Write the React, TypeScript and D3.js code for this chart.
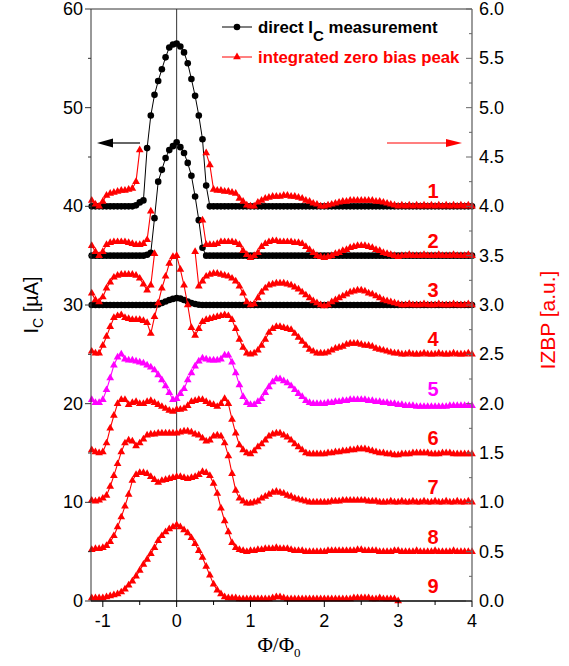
import React from 'react';
import * as d3 from 'd3';

// flux values (Φ/Φ0) at which all traces are sampled
const PHI = [
  -1.15, -1.1, -1.05, -1, -0.95, -0.9, -0.85, -0.8, -0.75, -0.7,
  -0.65, -0.6, -0.55, -0.5, -0.45, -0.4, -0.35, -0.3, -0.25, -0.2,
  -0.15, -0.1, -0.05, 0, 0.05, 0.1, 0.15, 0.2, 0.25, 0.3,
  0.35, 0.4, 0.45, 0.5, 0.55, 0.6, 0.65, 0.7, 0.75, 0.8,
  0.85, 0.9, 0.95, 1, 1.05, 1.1, 1.15, 1.2, 1.25, 1.3,
  1.35, 1.4, 1.45, 1.5, 1.55, 1.6, 1.65, 1.7, 1.75, 1.8,
  1.85, 1.9, 1.95, 2, 2.05, 2.1, 2.15, 2.2, 2.25, 2.3,
  2.35, 2.4, 2.45, 2.5, 2.55, 2.6, 2.65, 2.7, 2.75, 2.8,
  2.85, 2.9, 2.95, 3, 3.05, 3.1, 3.15, 3.2, 3.25, 3.3,
  3.35, 3.4, 3.45, 3.5, 3.55, 3.6, 3.65, 3.7, 3.75, 3.8,
  3.85, 3.9, 3.95, 4,
];

// integrated zero bias peak traces (a.u., relative to each trace's offset); null = no data
const N = null;
const Z1 = [
  .06, .02, .00, .05, .11, .13, .14, .15, .16, .16,
  .17, .18, .25, .57, N, N, N, N, N, N,
  N, N, N, N, N, N, N, N, N, N,
  N, .54, .42, .17, .16, .16, .15, .15, .14, .13,
  .08, .05, .01, .00, .00, .04, .06, .08, .09, .10,
  .10, .10, .11, .11, .10, .10, .09, .08, .06, .05,
  .03, .02, .00, .00, .01, .02, .03, .04, .05, .05,
  .06, .06, .06, .06, .06, .06, .06, .05, .05, .04,
  .03, .02, .01, .00, .01, .00, .01, .00, .01, .00,
  .01, .00, .01, .00, .01, .00, .01, .00, .01, .00,
  .01, .00, .01, .00,
];
const Z2 = [
  .10, .04, .00, .04, .11, .13, .14, .14, .14, .14,
  .13, .12, .11, .11, .12, .16, .45, N, N, N,
  N, N, N, N, N, N, N, N, N, N,
  .36, .11, .11, .11, .12, .14, .14, .14, .14, .13,
  .11, .05, .01, -.02, .00, .03, .09, .12, .14, .15,
  .15, .14, .14, .14, .14, .13, .13, .12, .09, .06,
  .03, .00, -.01, -.02, -.01, .00, .02, .03, .05, .06,
  .08, .09, .10, .10, .10, .09, .08, .06, .05, .03,
  .02, .01, .00, -.01, .00, .00, .01, .00, .00, .00,
  .01, .00, .00, .00, .01, .00, .00, .00, .01, .00,
  .00, .00, .01, .00,
];
const Z3 = [
  .12, .05, .03, .08, .17, .23, .28, .30, .31, .31,
  .31, .31, .30, .27, .21, .15, .20, .52, N, N,
  N, N, N, N, N, N, N, N, .54, .19,
  .24, .29, .31, .32, .32, .31, .30, .29, .27, .24,
  .19, .12, .03, .00, .01, .07, .13, .17, .20, .21,
  .22, .22, .22, .21, .20, .18, .16, .13, .10, .07,
  .04, .02, .00, -.01, .00, .03, .05, .07, .09, .11,
  .13, .14, .15, .15, .14, .12, .11, .09, .07, .05,
  .04, .03, .02, .01, .00, .00, .01, .00, .00, .00,
  .01, .00, .00, .00, .01, .00, .00, .00, .01, .00,
  .00, .00, .01, .00,
];
const Z4 = [
  .03, .01, .01, .09, .18, .28, .37, .39, .40, .37,
  .36, .35, .35, .35, .34, .32, .21, .38, .52, .67,
  .79, .92, .99, 1.00, .86, .70, .50, .27, .19, .26,
  .33, .35, .36, .37, .38, .39, .40, .39, .35, .26,
  .15, .07, .01, .00, .01, .04, .09, .15, .22, .26,
  .28, .28, .27, .26, .25, .21, .17, .13, .09, .05,
  .03, .01, .01, .01, .02, .04, .06, .07, .08, .10,
  .11, .11, .11, .10, .09, .09, .08, .06, .05, .04,
  .03, .02, .01, .01, .00, .00, .01, .00, .00, .00,
  .01, .00, .00, .00, .01, .00, .00, .00, .01, .00,
  .00, .00, .01, .00,
];
const Z5 = [
  .04, .01, .01, .04, .14, .26, .39, .47, .50, .45,
  .44, .44, .43, .42, .41, .39, .37, .34, .29, .24,
  .18, .11, .04, .05, .10, .15, .24, .31, .38, .43,
  .46, .45, .44, .44, .44, .45, .49, .49, .42, .31,
  .19, .07, .01, -.01, -.01, .02, .05, .11, .17, .22,
  .25, .25, .23, .21, .18, .14, .10, .07, .03, .01,
  .00, .00, .00, .00, .01, .01, .02, .02, .03, .03,
  .04, .04, .04, .04, .04, .03, .03, .02, .02, .01,
  .01, .00, .00, -.01, -.01, -.02, -.02, -.02, -.03, -.03,
  -.03, -.03, -.03, -.03, -.03, -.03, -.03, -.02, -.02, -.02,
  -.02, -.02, -.02, -.02,
];
const Z6 = [
  .03, .01, .00, .01, .10, .25, .38, .50, .54, .54,
  .49, .51, .52, .50, .50, .52, .53, .51, .49, .47,
  .45, .43, .42, .44, .44, .45, .48, .52, .53, .54,
  .54, .52, .50, .49, .47, .50, .55, .50, .34, .20,
  .08, .03, .00, -.01, .02, .06, .09, .13, .17, .19,
  .20, .20, .18, .16, .13, .09, .06, .03, .00, -.01,
  -.01, -.01, -.01, -.01, .00, .00, .01, .01, .02, .02,
  .03, .03, .04, .04, .04, .03, .02, .01, .00, .00,
  -.01, -.01, -.02, -.02, -.01, -.01, -.01, .00, .00, .00,
  .00, .00, -.01, -.01, -.01, .00, .00, .00, -.01, -.01,
  -.01, -.01, -.01, -.01,
];
const Z7 = [
  .02, .01, .02, .04, .07, .16, .27, .39, .51, .60,
  .63, .62, .57, .60, .64, .68, .69, .69, .70, .70,
  .70, .70, .70, .70, .71, .72, .72, .71, .69, .68,
  .65, .62, .63, .67, .68, .67, .60, .47, .29, .12,
  .04, .01, -.01, -.01, .00, .01, .04, .06, .08, .10,
  .11, .10, .09, .07, .06, .04, .03, .02, .01, .00,
  .00, .00, .00, .00, .00, .01, .01, .01, .02, .02,
  .02, .02, .02, .02, .02, .01, .01, .01, .00, .00,
  .00, .01, .00, .00, .01, .00, .00, .01, .00, .00,
  .01, .00, .00, .01, .00, .00, .01, .00, .00, .01,
  .00, .00, .01, .00,
];
const Z8 = [
  .02, .03, .03, .04, .06, .10, .16, .25, .35, .46,
  .58, .72, .78, .80, .80, .79, .76, .73, .70, .72,
  .73, .74, .75, .76, .76, .75, .74, .75, .76, .78,
  .81, .80, .77, .69, .59, .44, .31, .20, .09, .04,
  .02, .01, .00, .01, .01, .02, .02, .03, .03, .03,
  .04, .03, .03, .03, .02, .01, .01, .01, .00, .00,
  .00, .00, .00, .00, .01, .01, .01, .01, .01, .01,
  .01, .01, .02, .02, .01, .01, .01, .01, .00, .00,
  .00, .00, .01, .01, .00, .00, .00, .00, .01, .00,
  .00, .00, .00, .01, .00, .00, .00, .00, .01, .00,
  .00, .00, .00, .00,
];
const Z9 = [
  .03, .03, .03, .03, .04, .05, .06, .07, .09, .12,
  .16, .20, .25, .31, .37, .42, .48, .54, .61, .66,
  .70, .73, .75, .77, .75, .72, .69, .64, .58, .51,
  .44, .35, .26, .17, .11, .07, .04, .03, .03, .03,
  .02, .02, .02, .02, .02, .02, .02, .02, .02, .03,
  .04, .04, .03, .02, .02, .02, .02, .02, .02, .02,
  .02, .02, .02, .02, .02, .02, .02, .02, .02, .02,
  .02, .03, .03, .03, .03, .03, .02, .02, .03, .02,
  .02, .02, .02, .00, N, N, N, N, N, N,
  N, N, N, N, N, N, N, N, N, N,
  N, N, N, N,
];
const ZBP_TRACES = [Z1, Z2, Z3, Z4, Z5, Z6, Z7, Z8, Z9];
const ZBP_OFFSETS = [4.0, 3.5, 3.0, 2.5, 2.0, 1.5, 1.0, 0.5, 0.0];
const TRACE_LABELS = ['1', '2', '3', '4', '5', '6', '7', '8', '9'];

// direct Ic measurements (µA)
const IC1 = [
  40, 40, 40, 40, 40, 40, 40, 40, 40, 40,
  40, 40, 40.1, 40.4, 40.6, 45.9, 49.2, 51.3, 52.7, 53.9,
  55.1, 56.1, 56.4, 56.5, 56.2, 55.6, 54.5, 52.9, 51.2, 49.2,
  46.8, 42.1, 40, 40, 40, 40, 40, 40, 40, 40,
  40, 40, 40, 40, 40, 40, 40, 40, 40, 40,
  40, 40, 40, 40, 40, 40, 40, 40, 40, 40,
  40, 40, 40, 40, 40, 40, 40, 40, 40, 40,
  40, 40, 40, 40, 40, 40, 40, 40, 40, 40,
  40, 40, 40, 40, 40, 40, 40, 40, 40, 40,
  40, 40, 40, 40, 40, 40, 40, 40, 40, 40,
  40, 40, 40, 40,
];
const IC2 = [
  35, 35, 35, 35, 35, 35, 35, 35, 35, 35,
  35, 35, 35, 35, 35, 35.1, 35.3, 38.8, 42.5, 43.7,
  44.9, 45.7, 46.1, 46.5, 46.0, 45.4, 44.4, 43.1, 41.0, 38.6,
  35.8, 35, 35, 35, 35, 35, 35, 35, 35, 35,
  35, 35, 35, 35, 35, 35, 35, 35, 35, 35,
  35, 35, 35, 35, 35, 35, 35, 35, 35, 35,
  35, 35, 35, 35, 35, 35, 35, 35, 35, 35,
  35, 35, 35, 35, 35, 35, 35, 35, 35, 35,
  35, 35, 35, 35, 35, 35, 35, 35, 35, 35,
  35, 35, 35, 35, 35, 35, 35, 35, 35, 35,
  35, 35, 35, 35,
];
const IC3 = [
  30, 30, 30, 30, 30, 30, 30, 30, 30, 30,
  30, 30, 30, 30, 30, 30, 30, 30, 30.05, 30.2,
  30.35, 30.5, 30.62, 30.7, 30.65, 30.5, 30.35, 30.2, 30.1, 30.03,
  30, 30, 30, 30, 30, 30, 30, 30, 30, 30,
  30, 30, 30, 30, 30, 30, 30, 30, 30, 30,
  30, 30, 30, 30, 30, 30, 30, 30, 30, 30,
  30, 30, 30, 30, 30, 30, 30, 30, 30, 30,
  30, 30, 30, 30, 30, 30, 30, 30, 30, 30,
  30, 30, 30, 30, 30, 30, 30, 30, 30, 30,
  30, 30, 30, 30, 30, 30, 30, 30, 30, 30,
  30, 30, 30, 30,
];
const IC_TRACES = [IC1, IC2, IC3];

const X_TICKS = [-1, 0, 1, 2, 3, 4];
const X_MINOR = [-0.5, 0.5, 1.5, 2.5, 3.5];
const LEFT_TICKS = [0, 10, 20, 30, 40, 50, 60];
const LEFT_MINOR = [5, 15, 25, 35, 45, 55];
const RIGHT_TICKS = [0, 0.5, 1, 1.5, 2, 2.5, 3, 3.5, 4, 4.5, 5, 5.5, 6];
const RIGHT_MINOR = [0.25, 0.75, 1.25, 1.75, 2.25, 2.75, 3.25, 3.75, 4.25, 4.75, 5.25, 5.75];

const LEGEND_IC = 'direct I';
const LEGEND_ZBP = 'integrated zero bias peak';

const SANS = '"Liberation Sans", Arial, sans-serif';
const RED = '#ff0000';
const MAGENTA = '#ff00ff';

export default function App() {
  const L = 91, R = 472, T = 9, B = 601;
  const x = d3.scaleLinear().domain([-1.16, 4]).range([L, R]);
  const yL = d3.scaleLinear().domain([0, 60]).range([B, T]);
  const yR = d3.scaleLinear().domain([0, 6]).range([B, T]);

  const tri = d3.symbol().type(d3.symbolTriangle).size(26)() as string;

  const icLine = d3.line<number>().x((_, i) => x(PHI[i])).y((d) => yL(d));

  return (
    <svg width={569} height={666} style={{ position: 'absolute', left: 0, top: 0, background: '#fff' }}
      fontFamily={SANS}>
      <rect x={0} y={0} width={569} height={666} fill="#fff" />
      {/* frame */}
      <line x1={L} x2={R} y1={T} y2={T} stroke="#333" strokeWidth={1} />
      <line x1={x(0)} x2={x(0)} y1={T} y2={B} stroke="#333" strokeWidth={1} />

      {/* direct Ic traces */}
      {IC_TRACES.map((tr, k) => (
        <g key={'ic' + k}>
          <path d={icLine(tr) as string} fill="none" stroke="#000" strokeWidth={1} />
          {tr.map((v, i) => (
            <circle key={i} cx={x(PHI[i])} cy={yL(v)} r={3.3} fill="#000" />
          ))}
        </g>
      ))}

      {/* IZBP traces */}
      {ZBP_TRACES.map((tr, k) => {
        const off = ZBP_OFFSETS[k];
        const col = k === 4 ? MAGENTA : RED;
        const line = d3.line<number | null>()
          .defined((d) => d != null)
          .x((_, i) => x(PHI[i]))
          .y((d) => yR(off + (d as number)));
        return (
          <g key={'z' + k}>
            <path d={line(tr) as string} fill="none" stroke={col} strokeWidth={1.1} />
            {tr.map((v, i) => v == null ? null : (
              <path key={i} d={tri} transform={`translate(${x(PHI[i])},${yR(off + v)})`} fill={col} />
            ))}
          </g>
        );
      })}

      {/* trace labels */}
      {TRACE_LABELS.map((t, k) => (
        <text key={'lab' + t} x={433} y={yR(ZBP_OFFSETS[k]) - 8} textAnchor="middle" fontSize={20}
          fontWeight="bold" fill={k === 4 ? MAGENTA : RED}>{t}</text>
      ))}

      {/* axes */}
      <line x1={L} x2={L} y1={T} y2={B} stroke="#333" strokeWidth={1} />
      <line x1={R} x2={R} y1={T} y2={B} stroke="#666" strokeWidth={1.3} />
      <line x1={L} x2={R} y1={B} y2={B} stroke="#000" strokeWidth={1.3} />

      {LEFT_TICKS.map((t) => (
        <g key={'lt' + t}>
          <line x1={L - 6} x2={L} y1={yL(t)} y2={yL(t)} stroke="#333" />
          <text x={L - 8} y={yL(t) + 6} textAnchor="end" fontSize={18}>{t}</text>
        </g>
      ))}
      {LEFT_MINOR.map((t) => (
        <line key={'lm' + t} x1={L - 3} x2={L} y1={yL(t)} y2={yL(t)} stroke="#333" />
      ))}
      {RIGHT_TICKS.map((t) => (
        <g key={'rt' + t}>
          <line x1={R - 6} x2={R} y1={yR(t)} y2={yR(t)} stroke="#666" />
          <text x={R + 7} y={yR(t) + 6} fontSize={18}>{t.toFixed(1)}</text>
        </g>
      ))}
      {RIGHT_MINOR.map((t) => (
        <line key={'rm' + t} x1={R - 3} x2={R} y1={yR(t)} y2={yR(t)} stroke="#666" />
      ))}
      {X_TICKS.map((t) => (
        <g key={'xt' + t}>
          <line x1={x(t)} x2={x(t)} y1={B} y2={B + 6} stroke="#000" />
          <text x={x(t)} y={B + 26} textAnchor="middle" fontSize={18}>{t === -1 ? '-1' : t}</text>
        </g>
      ))}
      {X_MINOR.map((t) => (
        <line key={'xm' + t} x1={x(t)} x2={x(t)} y1={B} y2={B + 4} stroke="#000" />
      ))}

      {/* axis titles */}
      <text transform="translate(38,305) rotate(-90)" textAnchor="middle" fontSize={20}>
        I<tspan fontSize={14} dy={5}>C</tspan><tspan dy={-5}> [µA]</tspan>
      </text>
      <text transform="translate(555,320) rotate(-90)" textAnchor="middle" fontSize={21} fill={RED}>
        IZBP [a.u.]
      </text>
      <text x={279} y={652} textAnchor="middle" fontSize={21} fontFamily='"Liberation Serif", serif'>
        Φ/Φ<tspan fontSize={13} dy={5}>0</tspan>
      </text>

      {/* arrows */}
      <line x1={112} x2={140} y1={143} y2={143} stroke="#000" strokeWidth={1.2} />
      <path d="M97,143 L113,138.5 L113,147.5 Z" fill="#000" />
      <line x1={387} x2={447} y1={143} y2={143} stroke={RED} strokeWidth={1.2} />
      <path d="M462,143 L446,139 L446,147 Z" fill={RED} />

      {/* legend */}
      <line x1={222} x2={252} y1={27} y2={27} stroke="#000" strokeWidth={1} />
      <circle cx={237} cy={27} r={3.3} fill="#000" />
      <text x={258} y={33} fontSize={16.8} fontWeight="bold">
        {LEGEND_IC}<tspan fontSize={15} dy={8}>C</tspan><tspan dy={-8}> measurement</tspan>
      </text>
      <line x1={222} x2={252} y1={57} y2={57} stroke={RED} strokeWidth={1} />
      <path d={tri} transform="translate(237,57)" fill={RED} />
      <text x={258} y={63} fontSize={16.8} fontWeight="bold" fill={RED}>{LEGEND_ZBP}</text>
    </svg>
  );
}
